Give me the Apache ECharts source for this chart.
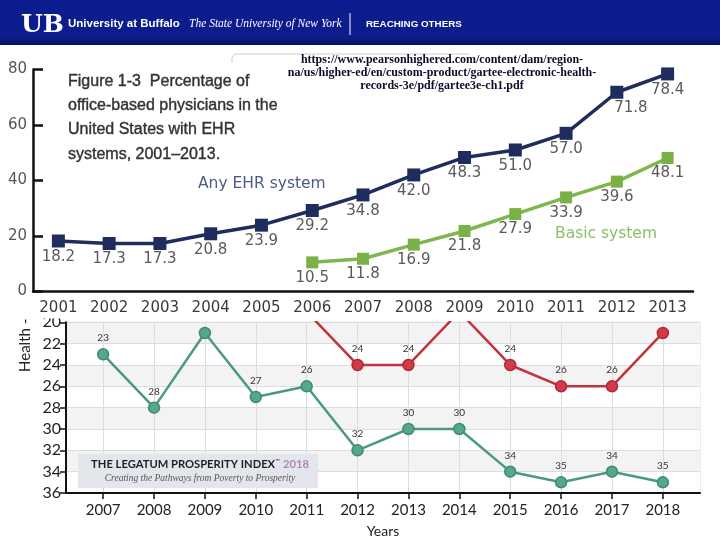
<!DOCTYPE html>
<html>
<head>
<meta charset="utf-8">
<script src="https://cdn.jsdelivr.net/npm/echarts@6/dist/echarts.min.js"></script>
<style>html,body{margin:0;padding:0;background:#fff}#c{width:720px;height:540px}</style>
</head>
<body>
<div id="c"></div>
<script>
// ---- Top chart (Figure 1-3) ----
const ehrYears = ['2001','2002','2003','2004','2005','2006','2007','2008','2009','2010','2011','2012','2013'];
const anyEHR = [18.2,17.3,17.3,20.8,23.9,29.2,34.8,42.0,48.3,51.0,57.0,71.8,78.4];
const basicEHR = [null,null,null,null,null,10.5,11.8,16.9,21.8,27.9,33.9,39.6,48.1];
const ehrTicks = [0,20,40,60,80];

// ---- Bottom chart (Legatum Prosperity Index, Health rank) ----
const rankYears = [2007,2008,2009,2010,2011,2012,2013,2014,2015,2016,2017,2018];
const greenRank = [23,28,21,27,26,32,30,30,34,35,34,35];
const redRank = [null,null,null,null,19,24,24,19,24,26,26,21];
const rankTicks = [20,22,24,26,28,30,32,34,36];

const chart = echarts.init(document.getElementById('c'));

const anyData = anyEHR.map((v,i)=> i===11 ? {value:v,label:{offset:[14,0]}} : v);
const greenData = rankYears.map((y,i)=>[y,greenRank[i]]);
const redData = rankYears.map((y,i)=>[y,redRank[i]]).filter(d=>d[1]!==null);

const topFont = 'DejaVu Sans';
const botFont = 'Lato';

chart.setOption({
  animation:false,
  backgroundColor:'#ffffff',
  grid:[
    {left:33,right:27,top:69.5,bottom:248.5,containLabel:false},
    {left:66,right:20,top:322.3,bottom:47,show:true,borderColor:'#dcdcdc',borderWidth:1,backgroundColor:'transparent'}
  ],
  xAxis:[
    {gridIndex:0,type:'category',data:ehrYears,boundaryGap:true,z:3,
     axisLine:{lineStyle:{color:'#111',width:2.5}},
     axisTick:{inside:true,alignWithLabel:true,length:8,lineStyle:{color:'#111',width:2.5}},
     axisLabel:{fontFamily:topFont,fontSize:15,color:'#3a3a3a',margin:9},
     splitLine:{show:false}},
    {gridIndex:1,type:'value',min:2006.27,max:2018.73,z:0,
     axisLine:{onZero:false,lineStyle:{color:'#111',width:2}},
     axisTick:{customValues:rankYears,length:6,lineStyle:{color:'#111',width:1.5}},
     axisLabel:{customValues:rankYears,formatter:v=>String(v),fontFamily:botFont,fontSize:15,color:'#222',margin:10},
     splitLine:{show:true,lineStyle:{color:'#dddddd',width:1}},
     name:'Years',nameLocation:'middle',nameGap:31,
     nameTextStyle:{fontFamily:botFont,fontSize:14,color:'#222'}}
  ],
  yAxis:[
    {gridIndex:0,type:'value',min:ehrTicks[0],max:ehrTicks[ehrTicks.length-1],interval:20,z:3,
     axisLine:{show:true,lineStyle:{color:'#111',width:2.5}},
     axisTick:{show:true,inside:true,length:10,lineStyle:{color:'#111',width:2.5}},
     axisLabel:{fontFamily:topFont,fontSize:15,color:'#555',margin:6},
     splitLine:{show:false}},
    {gridIndex:1,type:'value',inverse:true,min:rankTicks[0],max:rankTicks[rankTicks.length-1],interval:2,z:0,
     axisLine:{show:true,onZero:false,lineStyle:{color:'#111',width:2}},
     axisTick:{show:true,length:6,lineStyle:{color:'#111',width:1.5}},
     axisLabel:{fontFamily:botFont,fontSize:16,color:'#222',margin:5},
     splitLine:{show:true,lineStyle:{color:'#dddddd',width:1}},
     splitArea:{show:true,areaStyle:{color:['#f3f3f3','#ffffff']}}}
  ],
  series:[
    {name:'Any EHR system',type:'line',xAxisIndex:0,yAxisIndex:0,z:10,data:anyData,
     symbol:'rect',symbolSize:13,
     lineStyle:{color:'#1f2c5e',width:3.5},itemStyle:{color:'#1f2c5e'},
     label:{show:true,position:'bottom',distance:2,fontFamily:topFont,fontSize:15,color:'#5a5a5a',
            formatter:p=>Number(p.value).toFixed(1)}},
    {name:'Basic system',type:'line',xAxisIndex:0,yAxisIndex:0,z:10,data:basicEHR,
     symbol:'rect',symbolSize:12,
     lineStyle:{color:'#7fb64d',width:3.5},itemStyle:{color:'#79b145'},
     label:{show:true,position:'bottom',distance:2,fontFamily:topFont,fontSize:15,color:'#5a5a5a',
            formatter:p=>Number(p.value).toFixed(1)}},
    {name:'Health A',type:'line',xAxisIndex:1,yAxisIndex:1,z:2,data:greenData,clip:true,
     symbol:'circle',symbolSize:11,
     lineStyle:{color:'#4a9980',width:2.5},
     itemStyle:{color:'#55a88c',borderColor:'#3f8b72',borderWidth:1.5},
     label:{show:true,position:'top',distance:5,fontFamily:botFont,fontSize:10,color:'#333',
            formatter:p=>p.value[1]>=22?String(p.value[1]):''}},
    {name:'Health B',type:'line',xAxisIndex:1,yAxisIndex:1,z:2,data:redData,clip:true,
     symbol:'circle',symbolSize:11,
     lineStyle:{color:'#c2323f',width:2.5},
     itemStyle:{color:'#d23a48',borderColor:'#b0283a',borderWidth:1.5},
     label:{show:true,position:'top',distance:5,fontFamily:botFont,fontSize:10,color:'#333',
            formatter:p=>p.value[1]>=22?String(p.value[1]):''}}
  ],
  graphic:[
    // y-axis name of the bottom chart (partly hidden by the top figure)
    {type:'text',z:0,x:25,y:372,rotation:Math.PI/2,
     style:{text:'Health - Rank',fontFamily:botFont,fontSize:15,fill:'#222',textAlign:'left',textVerticalAlign:'middle'}},
    // white area of the pasted top figure
    {type:'rect',z:1,shape:{x:0,y:45,width:720,height:273.5},style:{fill:'#ffffff'}},
    // header bar
    {type:'rect',z:20,shape:{x:0,y:0,width:720,height:45},
     style:{fill:new echarts.graphic.LinearGradient(0,0,0,1,[
       {offset:0,color:'#0c1d8f'},{offset:0.82,color:'#0b1d8c'},{offset:1,color:'#06135f'}])}},
    {type:'text',z:21,x:21,y:25,style:{text:'UB',fontFamily:'DejaVu Serif',fontWeight:'bold',fontSize:25,fill:'#ffffff',textVerticalAlign:'middle'}},
    {type:'text',z:21,x:68,y:24,style:{text:'University at Buffalo',fontFamily:'Liberation Sans',fontWeight:'bold',fontSize:11.5,fill:'#ffffff',textVerticalAlign:'middle'}},
    {type:'text',z:21,x:189,y:24,style:{text:'The State University of New York',fontFamily:'Liberation Serif',fontStyle:'italic',fontSize:11.5,fill:'#ffffff',textVerticalAlign:'middle'}},
    {type:'line',z:21,shape:{x1:350,y1:13,x2:350,y2:35},style:{stroke:'#ffffff',lineWidth:1}},
    {type:'text',z:21,x:366,y:24,style:{text:'REACHING OTHERS',fontFamily:'Liberation Sans',fontWeight:'bold',fontSize:9.8,fill:'#ffffff',textVerticalAlign:'middle'}},
    // faint text-box edge
    {type:'polyline',z:21,shape:{points:[[232,63],[232,57],[235,54],[469,54]]},style:{stroke:'#cccccc',lineWidth:1,fill:null}},
    // URL lines
    {type:'text',z:21,x:442,y:60,style:{text:'https://www.pearsonhighered.com/content/dam/region-',textAlign:'center',fontFamily:'Liberation Serif',fontWeight:'bold',fontSize:12,fill:'#0b0b2a',textVerticalAlign:'middle'}},
    {type:'text',z:21,x:442,y:73,style:{text:'na/us/higher-ed/en/custom-product/gartee-electronic-health-',textAlign:'center',fontFamily:'Liberation Serif',fontWeight:'bold',fontSize:12,fill:'#0b0b2a',textVerticalAlign:'middle'}},
    {type:'text',z:21,x:442,y:86,style:{text:'records-3e/pdf/gartee3e-ch1.pdf',textAlign:'center',fontFamily:'Liberation Serif',fontWeight:'bold',fontSize:12,fill:'#0b0b2a',textVerticalAlign:'middle'}},
    // Figure title
    {type:'text',z:21,x:68,y:82,style:{text:'Figure 1-3  Percentage of',fontFamily:'Liberation Sans',fontSize:16,fill:'#333333',stroke:'#333333',lineWidth:0.4,textVerticalAlign:'middle'}},
    {type:'text',z:21,x:68,y:106,style:{text:'office-based physicians in the',fontFamily:'Liberation Sans',fontSize:16,fill:'#333333',stroke:'#333333',lineWidth:0.4,textVerticalAlign:'middle'}},
    {type:'text',z:21,x:68,y:130,style:{text:'United States with EHR',fontFamily:'Liberation Sans',fontSize:16,fill:'#333333',stroke:'#333333',lineWidth:0.4,textVerticalAlign:'middle'}},
    {type:'text',z:21,x:68,y:155,style:{text:'systems, 2001\u20132013.',fontFamily:'Liberation Sans',fontSize:16,fill:'#333333',stroke:'#333333',lineWidth:0.4,textVerticalAlign:'middle'}},
    // series name labels
    {type:'text',z:21,x:198,y:184,style:{text:'Any EHR system',fontFamily:topFont,fontSize:15.5,fill:'#4b5c8a',textVerticalAlign:'middle'}},
    {type:'text',z:21,x:555,y:234,style:{text:'Basic system',fontFamily:topFont,fontSize:15.5,fill:'#8cbf66',textVerticalAlign:'middle'}},
    // Legatum badge
    {type:'rect',z:1,shape:{x:78,y:454,width:240,height:34},style:{fill:'#e3e6eb'}},
    {type:'text',z:2,x:200,y:464,style:{
      text:'{a|THE LEGATUM PROSPERITY INDEX}{t|\u2122} {b|2018}',textAlign:'center',textVerticalAlign:'middle',
      rich:{a:{fontFamily:botFont,fontWeight:'bold',fontSize:11.2,fill:'#1e1e2a'},
            t:{fontFamily:botFont,fontSize:6,fill:'#1e1e2a',verticalAlign:'top'},
            b:{fontFamily:botFont,fontWeight:'bold',fontSize:11.2,fill:'#b384b8'}}}},
    {type:'text',z:2,x:200,y:478,style:{text:'Creating the Pathways from Poverty to Prosperity',textAlign:'center',textVerticalAlign:'middle',
      fontFamily:'Liberation Serif',fontStyle:'italic',fontSize:9.5,fill:'#555555'}}
  ]
});
</script>
</body>
</html>
